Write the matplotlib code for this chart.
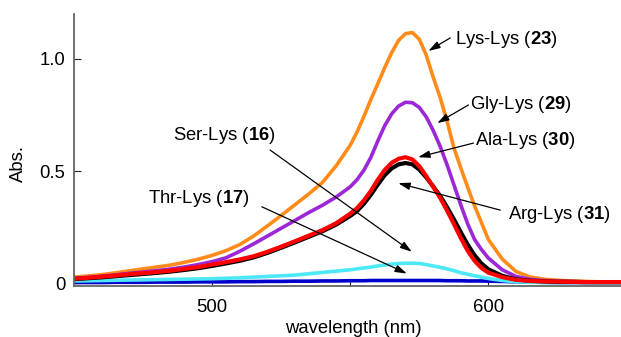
import matplotlib
matplotlib.use('Agg')
from matplotlib import pyplot as plt

# wavelength grid (nm), finer around the band maximum
wavelength = [450, 455, 460, 465, 470, 475, 480, 485, 490, 495,
              500, 505, 510, 515, 520, 525, 530, 535, 540, 545,
              550, 552.5, 555, 557.5, 560, 562.5, 565, 567.5, 570, 572.5,
              575, 577.5, 580, 582.5, 585, 587.5, 590, 592.5, 595, 597.5,
              600, 605, 610, 615, 620, 625, 630, 635, 640, 645, 648]

# absorbance
lys_lys = [.027, .032, .038, .046, .055, .064, .072, .081, .093, .107,
           .124, .145, .172, .210, .255, .302, .350, .398, .450, .525,
           .615, .675, .745, .820, .890, .962, 1.028, 1.083, 1.113, 1.118,
           1.088, 1.018, .920, .830, .725, .605, .515, .428, .345, .270,
           .195, .108, .052, .028, .018, .013, .010, .008, .006, .005, .005]
gly_lys = [.022, .026, .031, .037, .044, .050, .056, .063, .072, .083,
           .096, .113, .142, .175, .210, .245, .280, .315, .348, .385,
           .430, .462, .505, .562, .635, .703, .755, .790, .807, .805,
           .784, .742, .682, .612, .530, .440, .350, .265, .195, .150,
           .112, .060, .030, .017, .012, .009, .007, .006, .005, .005, .005]
ala_lys = [.020, .024, .029, .034, .040, .045, .050, .056, .064, .072,
           .083, .094, .106, .120, .140, .163, .187, .212, .237, .268,
           .310, .335, .370, .412, .462, .505, .537, .555, .562, .552,
           .522, .478, .430, .382, .325, .265, .202, .145, .100, .068,
           .047, .027, .015, .010, .008, .007, .006, .005, .005, .005, .005]
arg_lys = [.018, .022, .026, .031, .036, .041, .046, .052, .059, .067,
           .077, .088, .100, .115, .135, .158, .182, .207, .232, .262,
           .300, .322, .355, .395, .440, .482, .512, .530, .536, .530,
           .507, .472, .432, .390, .340, .285, .228, .172, .125, .088,
           .062, .033, .017, .011, .008, .006, .006, .005, .005, .005, .005]
ser_lys = [.010, .011, .012, .013, .014, .015, .016, .017, .018, .019,
           .020, .022, .024, .027, .030, .033, .036, .042, .048, .054,
           .060, .064, .068, .072, .077, .081, .085, .088, .089, .089,
           .088, .083, .077, .071, .064, .056, .047, .040, .033, .027,
           .021, .012, .006, .004, .003, .003, .003, .003, .003, .003, .003]
thr_lys = [.003, .003, .003, .004, .004, .004, .005, .005, .005, .006,
           .006, .006, .007, .007, .008, .008, .009, .009, .010, .010,
           .011, .011, .011, .012, .012, .012, .012, .012, .012, .012,
           .012, .012, .012, .012, .011, .011, .011, .010, .010, .010,
           .009, .008, .006, .005, .004, .003, .003, .003, .003, .003, .003]

plt.rcParams['font.family'] = ['Liberation Sans', 'DejaVu Sans']
plt.rcParams['mathtext.fontset'] = 'custom'
plt.rcParams['mathtext.rm'] = 'Liberation Sans'
plt.rcParams['mathtext.bf'] = 'Liberation Sans:bold'

fs = 13.3
fig = plt.figure(figsize=(6.21, 3.37), dpi=100)
ax = fig.add_axes([0.119, 0.151, 0.881, 0.807])

lw = 2.6
ax.plot(wavelength, thr_lys, color='#0000cc', lw=lw)
ax.plot(wavelength, ser_lys, color='#4de8f5', lw=lw)
ax.plot(wavelength, lys_lys, color='#ff8c1a', lw=lw)
ax.plot(wavelength, gly_lys, color='#9b27d6', lw=lw)
ax.plot(wavelength, arg_lys, color='black', lw=lw + 0.4)
ax.plot(wavelength, ala_lys, color='#ff0000', lw=lw + 0.4)

# labels and arrows: (text, text pos, arrow tail, arrow head)
notes = [
    ('Lys-Lys ($\\mathbf{23}$)', (588.0, 1.085), (586.2, 1.094), (578.3, 1.036)),
    ('Gly-Lys ($\\mathbf{29}$)', (593.5, 0.799), (592.8, 0.795), (581.5, 0.714)),
    ('Ala-Lys ($\\mathbf{30}$)', (595.3, 0.638), (594.6, 0.625), (574.6, 0.562)),
    ('Arg-Lys ($\\mathbf{31}$)', (607.2, 0.308), (604.3, 0.326), (567.4, 0.446)),
    ('Ser-Lys ($\\mathbf{16}$)', (485.9, 0.660), (521.0, 0.594), (572.3, 0.140)),
    ('Thr-Lys ($\\mathbf{17}$)', (476.8, 0.379), (518.0, 0.341), (570.5, 0.043)),
]
for label, pos, tail, head in notes:
    ax.text(pos[0], pos[1], label, fontsize=fs, ha='left', va='center')
    ax.annotate('', xy=head, xytext=tail,
                arrowprops=dict(arrowstyle='-|>,head_length=0.7,head_width=0.22',
                                color='black', lw=0.9, shrinkA=0, shrinkB=0))

ax.set_xlim(450, 648)
ax.set_ylim(-0.013, 1.2)
ax.set_xticks([500, 550, 600])
ax.set_xticklabels(['500', '', '600'])
ax.set_yticks([0, 0.5, 1.0])
ax.set_yticklabels(['0', '0.5', '1.0'])
ax.tick_params(direction='in', length=5, width=0.8, labelsize=fs, color='#222222')
ax.tick_params(axis='x', pad=9)
ax.tick_params(axis='y', pad=6)

for side in ['top', 'right']:
    ax.spines[side].set_visible(False)
for side in ['left', 'bottom']:
    ax.spines[side].set_color('#666666')
    ax.spines[side].set_linewidth(1.3)

ax.set_xlabel('wavelength (nm)', fontsize=fs)
ax.set_ylabel('Abs.', fontsize=fs)
ax.xaxis.set_label_coords(0.51, -0.125)
ax.yaxis.set_label_coords(-0.086, 0.452)

fig.savefig('out.png', dpi=100)
